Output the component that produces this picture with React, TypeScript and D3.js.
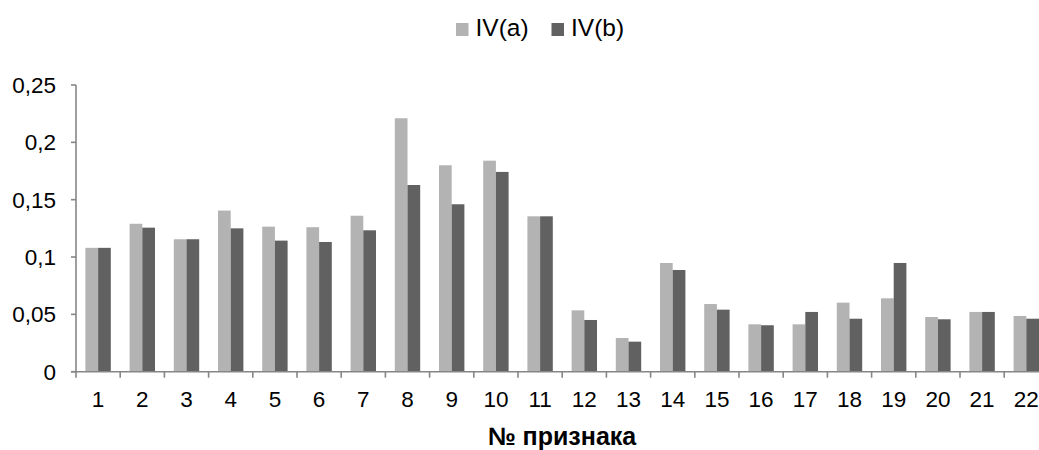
import React from "react";
import * as d3 from "d3";

const categories: string[] = Array.from({ length: 22 }, (_, i) => String(i + 1));
const seriesA: number[] = [0.108, 0.129, 0.1155, 0.1405, 0.1265, 0.126, 0.136, 0.221, 0.18, 0.184, 0.1355, 0.0535, 0.0294, 0.0948, 0.059, 0.0413, 0.0413, 0.0602, 0.064, 0.0477, 0.0521, 0.0486];
const seriesB: number[] = [0.108, 0.1256, 0.1155, 0.125, 0.1143, 0.1131, 0.1233, 0.1628, 0.146, 0.1742, 0.1355, 0.0451, 0.0262, 0.0887, 0.0541, 0.0405, 0.0521, 0.0462, 0.0948, 0.0457, 0.0521, 0.0462];
const seriesNames: string[] = ["IV(a)", "IV(b)"];
const seriesColors: string[] = ["#b3b3b3", "#616161"];
const yTicks: number[] = [0, 0.05, 0.1, 0.15, 0.2, 0.25];
const xTitle = "№ признака";

const W = 1039;
const H = 450;
const FONT = "'Liberation Sans', Arial, sans-serif";

export default function App() {
  const x0 = 76;
  const band = 44.2;
  const x = d3.scaleBand<string>().domain(categories).range([x0, x0 + band * categories.length]).paddingInner(0).paddingOuter(0);
  const groupW = 25.4;
  const xInner = d3.scaleBand<string>().domain(seriesNames).range([0, groupW]).padding(0);
  const y = d3.scaleLinear().domain([0, 0.25]).range([371.7, 85]);
  const fmt = (v: number) => String(+v.toFixed(2)).replace(".", ",");
  const axisColor = "#868686";
  const series = [seriesA, seriesB];

  return (
    <svg width={W} height={H} style={{ position: "absolute", left: 0, top: 0 }} fontFamily={FONT}>
      <rect width={W} height={H} fill="#fff" />
      {/* legend */}
      {seriesNames.map((n, i) => {
        const lx = [456, 551.5][i];
        return (
          <g key={n}>
            <rect x={lx} y={23} width={12.5} height={13} fill={seriesColors[i]} />
            <text x={lx + 19.5} y={36} fontSize={24.5} fill="#000">{n}</text>
          </g>
        );
      })}
      {/* bars */}
      {categories.map((c, ci) => {
        const gx = (x(c) as number) + (x.bandwidth() - groupW) / 2;
        return (
          <g key={c}>
            {series.map((s, si) => (
              <rect
                key={si}
                x={gx + (xInner(seriesNames[si]) as number)}
                y={y(s[ci])}
                width={xInner.bandwidth()}
                height={y(0) - y(s[ci])}
                fill={seriesColors[si]}
              />
            ))}
          </g>
        );
      })}
      {/* y axis */}
      <line x1={x0} x2={x0} y1={y(0.25)} y2={y(0)} stroke={axisColor} strokeWidth={1.6} />
      {yTicks.map((t) => (
        <g key={t}>
          <line x1={x0 - 5} x2={x0} y1={y(t)} y2={y(t)} stroke={axisColor} strokeWidth={1.6} />
          <text x={56} y={y(t)} dy="0.36em" textAnchor="end" fontSize={22.5} fill="#000">{fmt(t)}</text>
        </g>
      ))}
      {/* x axis */}
      <line x1={x0 - 5} x2={x0 + band * categories.length} y1={y(0)} y2={y(0)} stroke={axisColor} strokeWidth={1.6} />
      {categories.map((c) => (
        <line key={"t" + c} x1={x(c) as number} x2={x(c) as number} y1={y(0)} y2={y(0) + 6} stroke={axisColor} strokeWidth={1.6} />
      ))}
      {categories.map((c) => (
        <text key={"l" + c} x={(x(c) as number) + x.bandwidth() / 2} y={406.5} textAnchor="middle" fontSize={22.5} fill="#000">{c}</text>
      ))}
      <text x={562} y={445} textAnchor="middle" fontSize={25} fontWeight="bold" fill="#000">{xTitle}</text>
    </svg>
  );
}
